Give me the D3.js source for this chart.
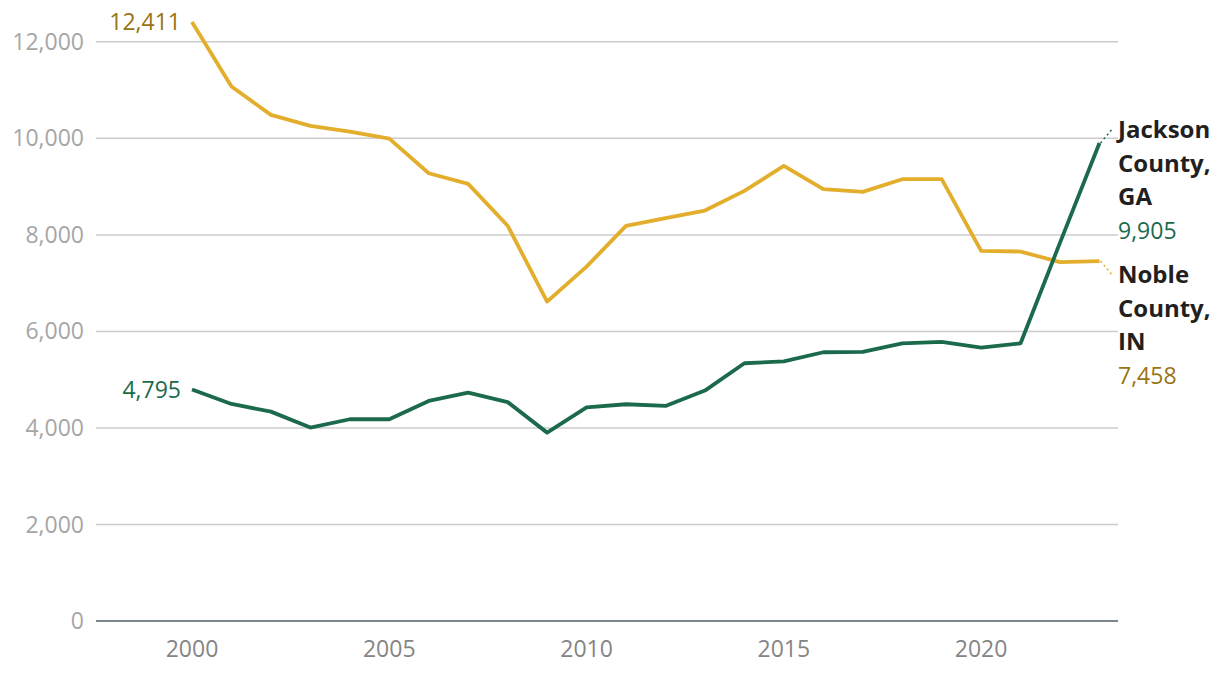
<!DOCTYPE html>
<html><head><meta charset="utf-8">
<script src="https://cdn.jsdelivr.net/npm/d3@7"></script>
<style>
body{margin:0;background:#fff;}
text{font-family:"Open Sans","Noto Sans",sans-serif;}
</style></head>
<body><svg id="c" width="1220" height="678"></svg>
<script>
const years = d3.range(2000, 2024);
const nobleValues = [12411,11074,10487,10259,10141,9996,9278,9057,8190,6618,7343,8187,8346,8504,8912,9430,8947,8891,9154,9154,7668,7655,7434,7458];
const jacksonValues = [4795,4497,4338,4007,4180,4180,4560,4732,4535,3903,4428,4491,4456,4774,5340,5381,5568,5575,5754,5782,5665,5754,7840,9905];
const yTicks = [0,2000,4000,6000,8000,10000,12000];
const xTicks = [2000,2005,2010,2015,2020];
const seriesNames = [["Jackson","County,","GA"],["Noble","County,","IN"]];

const svg = d3.select("#c");
const left=96, right=1118, bottom=621;
const x = d3.scaleLinear().domain([2000,2023]).range([192,1099.5]);
const y = d3.scaleLinear().domain([0,12411]).range([bottom,22]);
const fmt = d3.format(",");

const green="#1c6a4c", yellow="#e2ae2b", yellowText="#9a7413", dark="#231f20";
const fs = 23, fsb = 24;

// grid
svg.append("g").selectAll("line").data(yTicks.filter(d=>d>0)).join("line")
  .attr("x1",left).attr("x2",right).attr("y1",d=>y(d)).attr("y2",d=>y(d))
  .attr("stroke","#cccccc").attr("stroke-width",1.5);
// y labels
svg.append("g").selectAll("text").data(yTicks).join("text")
  .attr("x",84).attr("y",d=>y(d)).attr("dy","0.35em").attr("text-anchor","end")
  .attr("fill","#a6a6a6").attr("font-size",fs).text(d=>fmt(d));
// x axis line
svg.append("line").attr("x1",left).attr("x2",right).attr("y1",bottom).attr("y2",bottom)
  .attr("stroke","#7a868c").attr("stroke-width",2);
svg.append("g").selectAll("text").data(xTicks).join("text")
  .attr("x",d=>x(d)).attr("y",657).attr("text-anchor","middle")
  .attr("fill","#858585").attr("font-size",fs).text(d=>d);

const line = d3.line().x((d,i)=>x(years[i])).y(d=>y(d));
svg.append("path").datum(nobleValues).attr("d",line).attr("fill","none")
  .attr("stroke",yellow).attr("stroke-width",3.8).attr("stroke-linejoin","round");
svg.append("path").datum(jacksonValues).attr("d",line).attr("fill","none")
  .attr("stroke",green).attr("stroke-width",3.8).attr("stroke-linejoin","round");

// start labels
svg.append("text").attr("x",181).attr("y",y(nobleValues[0])).attr("dy","0.35em")
  .attr("text-anchor","end").attr("fill",yellowText).attr("font-size",fs).text(fmt(nobleValues[0]));
svg.append("text").attr("x",181).attr("y",y(jacksonValues[0])).attr("dy","0.35em")
  .attr("text-anchor","end").attr("fill",green).attr("font-size",fs).text(fmt(jacksonValues[0]));

// end connectors
const lastX = x(2023);
const jy = y(jacksonValues[23]), ny = y(nobleValues[23]);
svg.append("line").attr("x1",lastX+1).attr("y1",jy).attr("x2",lastX+12).attr("y2",jy-13)
  .attr("stroke",green).attr("stroke-width",1.5).attr("stroke-dasharray","2,3");
svg.append("line").attr("x1",lastX+1).attr("y1",ny).attr("x2",lastX+12).attr("y2",ny+13)
  .attr("stroke",yellow).attr("stroke-width",1.5).attr("stroke-dasharray","2,3");

// end labels
function endLabel(lines, val, col, cy){
  const g = svg.append("g");
  lines.forEach((t,i)=>{
    g.append("text").attr("x",1118).attr("y",cy+i*33.5).attr("dy","0.35em")
      .attr("fill",dark).attr("font-weight","bold").attr("font-size",fsb).text(t);
  });
  g.append("text").attr("x",1118).attr("y",cy+lines.length*33.5).attr("dy","0.35em")
    .attr("fill",col).attr("font-size",fs).text(fmt(val));
}
endLabel(seriesNames[0], jacksonValues[23], green, 130);
endLabel(seriesNames[1], nobleValues[23], yellowText, 275);
</script></body></html>
